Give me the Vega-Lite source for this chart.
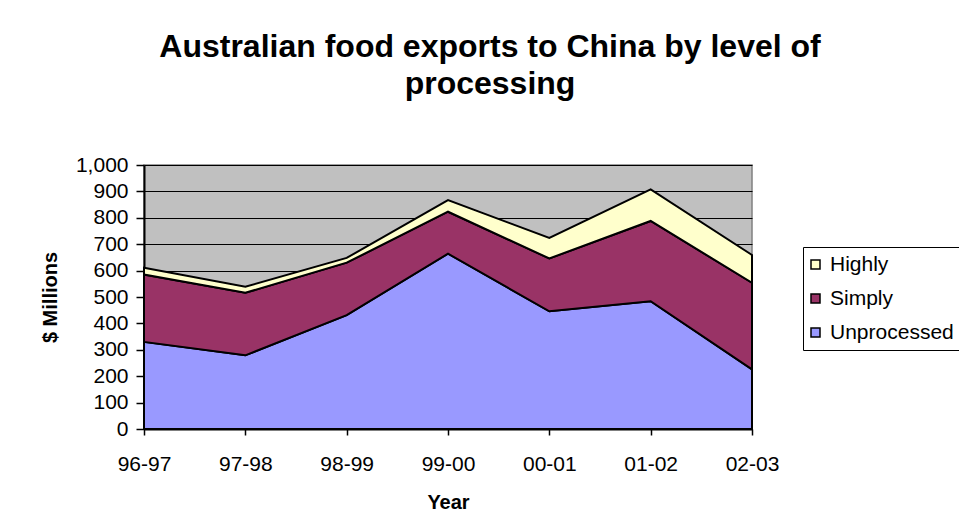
{
  "$schema": "https://vega.github.io/schema/vega-lite/v6.json",
  "width": 608,
  "height": 264,
  "autosize": {"type": "none"},
  "padding": {"left": 144, "top": 165, "right": 207, "bottom": 102},
  "background": "white",
  "config": {
    "font": "Liberation Sans",
    "view": {"fill": "#C0C0C0", "stroke": "#808080", "strokeWidth": 1.5}
  },
  "title": {
    "text": ["Australian food exports to China by level of", "processing"],
    "fontSize": 32,
    "fontWeight": "bold",
    "font": "Liberation Sans",
    "color": "black",
    "anchor": "middle",
    "frame": "group",
    "dx": 42,
    "lineHeight": 37,
    "offset": 53
  },
  "data": {
    "values": [
      {"Year": "96-97", "Level": "Unprocessed", "Value": 330},
      {"Year": "97-98", "Level": "Unprocessed", "Value": 279},
      {"Year": "98-99", "Level": "Unprocessed", "Value": 431},
      {"Year": "99-00", "Level": "Unprocessed", "Value": 664},
      {"Year": "00-01", "Level": "Unprocessed", "Value": 446},
      {"Year": "01-02", "Level": "Unprocessed", "Value": 484},
      {"Year": "02-03", "Level": "Unprocessed", "Value": 226},
      {"Year": "96-97", "Level": "Simply", "Value": 255},
      {"Year": "97-98", "Level": "Simply", "Value": 237},
      {"Year": "98-99", "Level": "Simply", "Value": 199},
      {"Year": "99-00", "Level": "Simply", "Value": 159},
      {"Year": "00-01", "Level": "Simply", "Value": 200},
      {"Year": "01-02", "Level": "Simply", "Value": 304},
      {"Year": "02-03", "Level": "Simply", "Value": 328},
      {"Year": "96-97", "Level": "Highly", "Value": 26},
      {"Year": "97-98", "Level": "Highly", "Value": 23},
      {"Year": "98-99", "Level": "Highly", "Value": 18},
      {"Year": "99-00", "Level": "Highly", "Value": 44},
      {"Year": "00-01", "Level": "Highly", "Value": 78},
      {"Year": "01-02", "Level": "Highly", "Value": 120},
      {"Year": "02-03", "Level": "Highly", "Value": 105}
    ]
  },
  "mark": {"type": "area", "stroke": "black", "strokeWidth": 2, "opacity": 1, "fillOpacity": 1, "interpolate": "linear"},
  "encoding": {
    "x": {
      "field": "Year",
      "type": "ordinal",
      "sort": null,
      "scale": {"type": "point", "padding": 0},
      "axis": {
        "title": "Year",
        "titleFontSize": 20,
        "titleFontWeight": "bold",
        "titleColor": "black",
        "titlePadding": 18,
        "labelFontSize": 21,
        "labelColor": "black",
        "labelAngle": 0,
        "labelPadding": 18,
        "tickSize": 6,
        "tickColor": "black",
        "tickWidth": 1.5,
        "domainColor": "black",
        "domainWidth": 2,
        "grid": false
      }
    },
    "y": {
      "field": "Value",
      "type": "quantitative",
      "stack": "zero",
      "scale": {"domain": [0, 1000], "nice": false},
      "axis": {
        "title": "$ Millions",
        "titleFontSize": 20,
        "titleFontWeight": "bold",
        "titleColor": "black",
        "titlePadding": 15,
        "values": [0, 100, 200, 300, 400, 500, 600, 700, 800, 900, 1000],
        "format": ",d",
        "labelFontSize": 21,
        "labelColor": "black",
        "labelPadding": 8,
        "tickSize": 8,
        "tickColor": "black",
        "tickWidth": 1.5,
        "domainColor": "black",
        "domainWidth": 2,
        "grid": true,
        "gridColor": "black",
        "gridWidth": 1.2,
        "gridOpacity": 1
      }
    },
    "color": {
      "field": "Level",
      "type": "nominal",
      "scale": {"domain": ["Highly", "Simply", "Unprocessed"], "range": ["#FFFFCC", "#993366", "#9999FF"]},
      "legend": {
        "title": null,
        "orient": "none",
        "legendX": 659,
        "legendY": 82,
        "symbolType": "square",
        "symbolSize": 81,
        "symbolStrokeColor": "black",
        "symbolStrokeWidth": 1.5,
        "symbolOpacity": 1,
        "symbolOffset": -5,
        "labelFontSize": 21,
        "labelColor": "black",
        "labelOffset": 4,
        "rowPadding": 12,
        "padding": 7,
        "strokeColor": "black"
      }
    },
    "order": {"field": "Level", "sort": "descending"}
  }
}
